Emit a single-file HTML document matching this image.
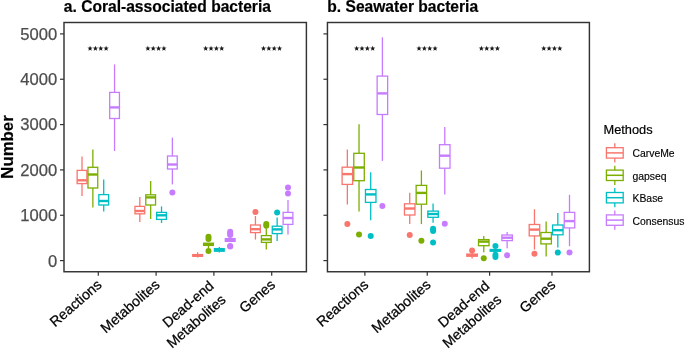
<!DOCTYPE html>
<html><head><meta charset="utf-8"><style>
html,body{margin:0;padding:0;background:#fff;width:685px;height:350px;overflow:hidden}
svg{display:block;will-change:transform}
text{font-family:"Liberation Sans",sans-serif}
.ti{font-size:15.6px;font-weight:bold;fill:#000;stroke:#000;stroke-width:0.2px}
.yl{font-size:16.8px;font-weight:bold;fill:#000;stroke:#000;stroke-width:0.2px}
.yt{font-size:16.6px;fill:#4d4d4d;stroke:#4d4d4d;stroke-width:0.25px}
.xt{font-size:14.2px;fill:#000;stroke:#000;stroke-width:0.25px}
.st{font-size:14px;fill:#000}
.lt{font-size:12.8px;fill:#000;stroke:#000;stroke-width:0.2px}
.lk{font-size:10.4px;fill:#000;stroke:#000;stroke-width:0.15px}
</style></head><body>
<svg width="685" height="350" viewBox="0 0 685 350">
<defs><polygon id="star" points="0.00,-2.80 0.68,-0.93 2.66,-0.87 1.09,0.36 1.65,2.27 0.00,1.15 -1.65,2.27 -1.09,0.36 -2.66,-0.87 -0.68,-0.93" fill="#1a1a1a"/></defs>
<text x="63.8" y="12" class="ti">a. Coral-associated bacteria</text>
<text x="327.3" y="12" class="ti">b. Seawater bacteria</text>
<text x="0" y="0" class="yl" transform="translate(13.2 147) rotate(-90)" text-anchor="middle">Number</text>
<rect x="64.0" y="22.5" width="242.40" height="249.25" fill="none" stroke="#333" stroke-width="1.45"/>
<line x1="60.00" y1="260.60" x2="64.0" y2="260.60" stroke="#333" stroke-width="1.2"/>
<text x="57.20" y="266.50" text-anchor="end" class="yt">0</text>
<line x1="60.00" y1="215.26" x2="64.0" y2="215.26" stroke="#333" stroke-width="1.2"/>
<text x="57.20" y="221.16" text-anchor="end" class="yt">1000</text>
<line x1="60.00" y1="169.92" x2="64.0" y2="169.92" stroke="#333" stroke-width="1.2"/>
<text x="57.20" y="175.82" text-anchor="end" class="yt">2000</text>
<line x1="60.00" y1="124.58" x2="64.0" y2="124.58" stroke="#333" stroke-width="1.2"/>
<text x="57.20" y="130.48" text-anchor="end" class="yt">3000</text>
<line x1="60.00" y1="79.24" x2="64.0" y2="79.24" stroke="#333" stroke-width="1.2"/>
<text x="57.20" y="85.14" text-anchor="end" class="yt">4000</text>
<line x1="60.00" y1="33.90" x2="64.0" y2="33.90" stroke="#333" stroke-width="1.2"/>
<text x="57.20" y="39.80" text-anchor="end" class="yt">5000</text>
<line x1="98.29" y1="271.75" x2="98.29" y2="275.75" stroke="#333" stroke-width="1.2"/>
<use href="#star" x="90.06" y="48.5"/>
<use href="#star" x="95.41" y="48.5"/>
<use href="#star" x="100.76" y="48.5"/>
<use href="#star" x="106.11" y="48.5"/>
<line x1="156.10" y1="271.75" x2="156.10" y2="275.75" stroke="#333" stroke-width="1.2"/>
<use href="#star" x="147.87" y="48.5"/>
<use href="#star" x="153.22" y="48.5"/>
<use href="#star" x="158.57" y="48.5"/>
<use href="#star" x="163.92" y="48.5"/>
<line x1="213.90" y1="271.75" x2="213.90" y2="275.75" stroke="#333" stroke-width="1.2"/>
<use href="#star" x="205.68" y="48.5"/>
<use href="#star" x="211.03" y="48.5"/>
<use href="#star" x="216.38" y="48.5"/>
<use href="#star" x="221.73" y="48.5"/>
<line x1="271.71" y1="271.75" x2="271.71" y2="275.75" stroke="#333" stroke-width="1.2"/>
<use href="#star" x="263.49" y="48.5"/>
<use href="#star" x="268.84" y="48.5"/>
<use href="#star" x="274.19" y="48.5"/>
<use href="#star" x="279.54" y="48.5"/>
<rect x="327.45" y="22.5" width="261.95" height="249.25" fill="none" stroke="#333" stroke-width="1.45"/>
<line x1="323.45" y1="260.60" x2="327.45" y2="260.60" stroke="#333" stroke-width="1.2"/>
<line x1="323.45" y1="215.26" x2="327.45" y2="215.26" stroke="#333" stroke-width="1.2"/>
<line x1="323.45" y1="169.92" x2="327.45" y2="169.92" stroke="#333" stroke-width="1.2"/>
<line x1="323.45" y1="124.58" x2="327.45" y2="124.58" stroke="#333" stroke-width="1.2"/>
<line x1="323.45" y1="79.24" x2="327.45" y2="79.24" stroke="#333" stroke-width="1.2"/>
<line x1="323.45" y1="33.90" x2="327.45" y2="33.90" stroke="#333" stroke-width="1.2"/>
<line x1="364.87" y1="271.75" x2="364.87" y2="275.75" stroke="#333" stroke-width="1.2"/>
<use href="#star" x="356.65" y="48.5"/>
<use href="#star" x="362.00" y="48.5"/>
<use href="#star" x="367.35" y="48.5"/>
<use href="#star" x="372.70" y="48.5"/>
<line x1="427.24" y1="271.75" x2="427.24" y2="275.75" stroke="#333" stroke-width="1.2"/>
<use href="#star" x="419.02" y="48.5"/>
<use href="#star" x="424.37" y="48.5"/>
<use href="#star" x="429.72" y="48.5"/>
<use href="#star" x="435.07" y="48.5"/>
<line x1="489.61" y1="271.75" x2="489.61" y2="275.75" stroke="#333" stroke-width="1.2"/>
<use href="#star" x="481.38" y="48.5"/>
<use href="#star" x="486.73" y="48.5"/>
<use href="#star" x="492.08" y="48.5"/>
<use href="#star" x="497.43" y="48.5"/>
<line x1="551.98" y1="271.75" x2="551.98" y2="275.75" stroke="#333" stroke-width="1.2"/>
<use href="#star" x="543.75" y="48.5"/>
<use href="#star" x="549.10" y="48.5"/>
<use href="#star" x="554.45" y="48.5"/>
<use href="#star" x="559.80" y="48.5"/>
<line x1="82.01" y1="156.6" x2="82.01" y2="170.4" stroke="#F8766D" stroke-width="1.3"/>
<line x1="82.01" y1="183.6" x2="82.01" y2="196" stroke="#F8766D" stroke-width="1.3"/>
<rect x="77.13" y="170.4" width="9.76" height="13.20" fill="#fff" stroke="#F8766D" stroke-width="1.3"/>
<line x1="77.13" y1="180.3" x2="86.89" y2="180.3" stroke="#F8766D" stroke-width="2.4"/>
<line x1="92.86" y1="149.5" x2="92.86" y2="167.3" stroke="#7CAE00" stroke-width="1.3"/>
<line x1="92.86" y1="188" x2="92.86" y2="207.4" stroke="#7CAE00" stroke-width="1.3"/>
<rect x="87.98" y="167.3" width="9.77" height="20.70" fill="#fff" stroke="#7CAE00" stroke-width="1.3"/>
<line x1="87.98" y1="174.5" x2="97.74" y2="174.5" stroke="#7CAE00" stroke-width="2.4"/>
<line x1="103.71" y1="179.4" x2="103.71" y2="194.6" stroke="#00BFC4" stroke-width="1.3"/>
<line x1="103.71" y1="205" x2="103.71" y2="211.4" stroke="#00BFC4" stroke-width="1.3"/>
<rect x="98.83" y="194.6" width="9.77" height="10.40" fill="#fff" stroke="#00BFC4" stroke-width="1.3"/>
<line x1="98.83" y1="201" x2="108.59" y2="201" stroke="#00BFC4" stroke-width="2.4"/>
<line x1="114.56" y1="64.4" x2="114.56" y2="92.4" stroke="#C77CFF" stroke-width="1.3"/>
<line x1="114.56" y1="118.5" x2="114.56" y2="151" stroke="#C77CFF" stroke-width="1.3"/>
<rect x="109.68" y="92.4" width="9.76" height="26.10" fill="#fff" stroke="#C77CFF" stroke-width="1.3"/>
<line x1="109.68" y1="107.4" x2="119.44" y2="107.4" stroke="#C77CFF" stroke-width="2.4"/>
<line x1="139.82" y1="197" x2="139.82" y2="206.4" stroke="#F8766D" stroke-width="1.3"/>
<line x1="139.82" y1="213.8" x2="139.82" y2="222" stroke="#F8766D" stroke-width="1.3"/>
<rect x="134.94" y="206.4" width="9.76" height="7.40" fill="#fff" stroke="#F8766D" stroke-width="1.3"/>
<line x1="134.94" y1="211" x2="144.70" y2="211" stroke="#F8766D" stroke-width="2.4"/>
<line x1="150.67" y1="181" x2="150.67" y2="194.8" stroke="#7CAE00" stroke-width="1.3"/>
<line x1="150.67" y1="205" x2="150.67" y2="219" stroke="#7CAE00" stroke-width="1.3"/>
<rect x="145.79" y="194.8" width="9.76" height="10.20" fill="#fff" stroke="#7CAE00" stroke-width="1.3"/>
<line x1="145.79" y1="197.4" x2="155.55" y2="197.4" stroke="#7CAE00" stroke-width="2.4"/>
<line x1="161.52" y1="206.4" x2="161.52" y2="212.4" stroke="#00BFC4" stroke-width="1.3"/>
<line x1="161.52" y1="219.4" x2="161.52" y2="223" stroke="#00BFC4" stroke-width="1.3"/>
<rect x="156.64" y="212.4" width="9.76" height="7.00" fill="#fff" stroke="#00BFC4" stroke-width="1.3"/>
<line x1="156.64" y1="215.3" x2="166.40" y2="215.3" stroke="#00BFC4" stroke-width="2.4"/>
<line x1="172.37" y1="137.6" x2="172.37" y2="156" stroke="#C77CFF" stroke-width="1.3"/>
<line x1="172.37" y1="169" x2="172.37" y2="184.4" stroke="#C77CFF" stroke-width="1.3"/>
<rect x="167.49" y="156" width="9.76" height="13.00" fill="#fff" stroke="#C77CFF" stroke-width="1.3"/>
<line x1="167.49" y1="164.5" x2="177.25" y2="164.5" stroke="#C77CFF" stroke-width="2.4"/>
<circle cx="172.37" cy="192.4" r="3.0" fill="#C77CFF"/>
<line x1="197.63" y1="252.3" x2="197.63" y2="254.6" stroke="#F8766D" stroke-width="1.3"/>
<line x1="197.63" y1="256.3" x2="197.63" y2="257.5" stroke="#F8766D" stroke-width="1.3"/>
<rect x="192.75" y="254.6" width="9.76" height="1.70" fill="#fff" stroke="#F8766D" stroke-width="1.3"/>
<line x1="192.75" y1="255.4" x2="202.51" y2="255.4" stroke="#F8766D" stroke-width="2.4"/>
<line x1="208.48" y1="243.2" x2="208.48" y2="243.2" stroke="#7CAE00" stroke-width="1.3"/>
<line x1="208.48" y1="245.4" x2="208.48" y2="248" stroke="#7CAE00" stroke-width="1.3"/>
<rect x="203.60" y="243.2" width="9.76" height="2.20" fill="#fff" stroke="#7CAE00" stroke-width="1.3"/>
<line x1="203.60" y1="244.3" x2="213.36" y2="244.3" stroke="#7CAE00" stroke-width="2.4"/>
<circle cx="208.48" cy="236.8" r="3.0" fill="#7CAE00"/>
<circle cx="208.48" cy="239.1" r="3.0" fill="#7CAE00"/>
<circle cx="208.48" cy="251.1" r="3.0" fill="#7CAE00"/>
<line x1="219.33" y1="247" x2="219.33" y2="248.6" stroke="#00BFC4" stroke-width="1.3"/>
<line x1="219.33" y1="251.2" x2="219.33" y2="252.5" stroke="#00BFC4" stroke-width="1.3"/>
<rect x="214.45" y="248.6" width="9.76" height="2.60" fill="#fff" stroke="#00BFC4" stroke-width="1.3"/>
<line x1="214.45" y1="250" x2="224.21" y2="250" stroke="#00BFC4" stroke-width="2.4"/>
<line x1="230.18" y1="238" x2="230.18" y2="238.6" stroke="#C77CFF" stroke-width="1.3"/>
<line x1="230.18" y1="241.4" x2="230.18" y2="242" stroke="#C77CFF" stroke-width="1.3"/>
<rect x="225.30" y="238.6" width="9.76" height="2.80" fill="#fff" stroke="#C77CFF" stroke-width="1.3"/>
<line x1="225.30" y1="240" x2="235.06" y2="240" stroke="#C77CFF" stroke-width="2.4"/>
<circle cx="230.18" cy="231.8" r="3.0" fill="#C77CFF"/>
<circle cx="230.18" cy="233.5" r="3.0" fill="#C77CFF"/>
<circle cx="230.18" cy="235" r="3.0" fill="#C77CFF"/>
<circle cx="230.18" cy="245.9" r="3.0" fill="#C77CFF"/>
<circle cx="230.18" cy="246.5" r="3.0" fill="#C77CFF"/>
<line x1="255.44" y1="216" x2="255.44" y2="225" stroke="#F8766D" stroke-width="1.3"/>
<line x1="255.44" y1="232.6" x2="255.44" y2="239.6" stroke="#F8766D" stroke-width="1.3"/>
<rect x="250.56" y="225" width="9.77" height="7.60" fill="#fff" stroke="#F8766D" stroke-width="1.3"/>
<line x1="250.56" y1="229.2" x2="260.32" y2="229.2" stroke="#F8766D" stroke-width="2.4"/>
<circle cx="255.44" cy="212" r="3.0" fill="#F8766D"/>
<line x1="266.29" y1="228.2" x2="266.29" y2="235.6" stroke="#7CAE00" stroke-width="1.3"/>
<line x1="266.29" y1="242.4" x2="266.29" y2="249.6" stroke="#7CAE00" stroke-width="1.3"/>
<rect x="261.41" y="235.6" width="9.76" height="6.80" fill="#fff" stroke="#7CAE00" stroke-width="1.3"/>
<line x1="261.41" y1="239.4" x2="271.17" y2="239.4" stroke="#7CAE00" stroke-width="2.4"/>
<circle cx="266.29" cy="224" r="3.0" fill="#7CAE00"/>
<circle cx="266.29" cy="225.8" r="3.0" fill="#7CAE00"/>
<line x1="277.14" y1="217.4" x2="277.14" y2="226.2" stroke="#00BFC4" stroke-width="1.3"/>
<line x1="277.14" y1="233.6" x2="277.14" y2="241" stroke="#00BFC4" stroke-width="1.3"/>
<rect x="272.26" y="226.2" width="9.76" height="7.40" fill="#fff" stroke="#00BFC4" stroke-width="1.3"/>
<line x1="272.26" y1="229.4" x2="282.02" y2="229.4" stroke="#00BFC4" stroke-width="2.4"/>
<circle cx="277.14" cy="212.4" r="3.0" fill="#00BFC4"/>
<line x1="287.99" y1="200" x2="287.99" y2="212.4" stroke="#C77CFF" stroke-width="1.3"/>
<line x1="287.99" y1="224.4" x2="287.99" y2="234.4" stroke="#C77CFF" stroke-width="1.3"/>
<rect x="283.11" y="212.4" width="9.76" height="12.00" fill="#fff" stroke="#C77CFF" stroke-width="1.3"/>
<line x1="283.11" y1="218" x2="292.87" y2="218" stroke="#C77CFF" stroke-width="2.4"/>
<circle cx="287.99" cy="187.4" r="3.0" fill="#C77CFF"/>
<circle cx="287.99" cy="193.6" r="3.0" fill="#C77CFF"/>
<line x1="347.35" y1="149.4" x2="347.35" y2="167.2" stroke="#F8766D" stroke-width="1.3"/>
<line x1="347.35" y1="184.4" x2="347.35" y2="204.4" stroke="#F8766D" stroke-width="1.3"/>
<rect x="342.10" y="167.2" width="10.51" height="17.20" fill="#fff" stroke="#F8766D" stroke-width="1.3"/>
<line x1="342.10" y1="174.1" x2="352.61" y2="174.1" stroke="#F8766D" stroke-width="2.4"/>
<circle cx="347.35" cy="224" r="3.0" fill="#F8766D"/>
<line x1="359.03" y1="124.2" x2="359.03" y2="153.3" stroke="#7CAE00" stroke-width="1.3"/>
<line x1="359.03" y1="180.7" x2="359.03" y2="211.6" stroke="#7CAE00" stroke-width="1.3"/>
<rect x="353.78" y="153.3" width="10.51" height="27.40" fill="#fff" stroke="#7CAE00" stroke-width="1.3"/>
<line x1="353.78" y1="167.5" x2="364.29" y2="167.5" stroke="#7CAE00" stroke-width="2.4"/>
<circle cx="359.03" cy="234.5" r="3.0" fill="#7CAE00"/>
<line x1="370.71" y1="172.3" x2="370.71" y2="189.5" stroke="#00BFC4" stroke-width="1.3"/>
<line x1="370.71" y1="202.4" x2="370.71" y2="220.2" stroke="#00BFC4" stroke-width="1.3"/>
<rect x="365.46" y="189.5" width="10.51" height="12.90" fill="#fff" stroke="#00BFC4" stroke-width="1.3"/>
<line x1="365.46" y1="194.4" x2="375.97" y2="194.4" stroke="#00BFC4" stroke-width="2.4"/>
<circle cx="370.71" cy="236" r="3.0" fill="#00BFC4"/>
<line x1="382.39" y1="37.3" x2="382.39" y2="76.1" stroke="#C77CFF" stroke-width="1.3"/>
<line x1="382.39" y1="114.5" x2="382.39" y2="160.9" stroke="#C77CFF" stroke-width="1.3"/>
<rect x="377.14" y="76.1" width="10.51" height="38.40" fill="#fff" stroke="#C77CFF" stroke-width="1.3"/>
<line x1="377.14" y1="93.4" x2="387.65" y2="93.4" stroke="#C77CFF" stroke-width="2.4"/>
<circle cx="382.39" cy="205.9" r="3.0" fill="#C77CFF"/>
<line x1="409.72" y1="192.8" x2="409.72" y2="203.8" stroke="#F8766D" stroke-width="1.3"/>
<line x1="409.72" y1="215" x2="409.72" y2="224.1" stroke="#F8766D" stroke-width="1.3"/>
<rect x="404.46" y="203.8" width="10.51" height="11.20" fill="#fff" stroke="#F8766D" stroke-width="1.3"/>
<line x1="404.46" y1="208.5" x2="414.98" y2="208.5" stroke="#F8766D" stroke-width="2.4"/>
<circle cx="409.72" cy="235" r="3.0" fill="#F8766D"/>
<line x1="421.40" y1="170.5" x2="421.40" y2="185.4" stroke="#7CAE00" stroke-width="1.3"/>
<line x1="421.40" y1="204.2" x2="421.40" y2="224.1" stroke="#7CAE00" stroke-width="1.3"/>
<rect x="416.14" y="185.4" width="10.51" height="18.80" fill="#fff" stroke="#7CAE00" stroke-width="1.3"/>
<line x1="416.14" y1="192.9" x2="426.66" y2="192.9" stroke="#7CAE00" stroke-width="2.4"/>
<circle cx="421.40" cy="240.8" r="3.0" fill="#7CAE00"/>
<line x1="433.08" y1="203.5" x2="433.08" y2="211.1" stroke="#00BFC4" stroke-width="1.3"/>
<line x1="433.08" y1="217.3" x2="433.08" y2="222.8" stroke="#00BFC4" stroke-width="1.3"/>
<rect x="427.82" y="211.1" width="10.51" height="6.20" fill="#fff" stroke="#00BFC4" stroke-width="1.3"/>
<line x1="427.82" y1="214.0" x2="438.34" y2="214.0" stroke="#00BFC4" stroke-width="2.4"/>
<circle cx="433.08" cy="228.7" r="3.0" fill="#00BFC4"/>
<circle cx="433.08" cy="230.9" r="3.0" fill="#00BFC4"/>
<circle cx="433.08" cy="242.6" r="3.0" fill="#00BFC4"/>
<line x1="444.76" y1="127.1" x2="444.76" y2="144.7" stroke="#C77CFF" stroke-width="1.3"/>
<line x1="444.76" y1="168.2" x2="444.76" y2="194.4" stroke="#C77CFF" stroke-width="1.3"/>
<rect x="439.50" y="144.7" width="10.51" height="23.50" fill="#fff" stroke="#C77CFF" stroke-width="1.3"/>
<line x1="439.50" y1="155.7" x2="450.02" y2="155.7" stroke="#C77CFF" stroke-width="2.4"/>
<circle cx="444.76" cy="223.7" r="3.0" fill="#C77CFF"/>
<line x1="472.09" y1="253" x2="472.09" y2="254.1" stroke="#F8766D" stroke-width="1.3"/>
<line x1="472.09" y1="256.2" x2="472.09" y2="258.6" stroke="#F8766D" stroke-width="1.3"/>
<rect x="466.83" y="254.1" width="10.51" height="2.10" fill="#fff" stroke="#F8766D" stroke-width="1.3"/>
<line x1="466.83" y1="255.2" x2="477.35" y2="255.2" stroke="#F8766D" stroke-width="2.4"/>
<circle cx="472.09" cy="250.5" r="3.0" fill="#F8766D"/>
<line x1="483.77" y1="236" x2="483.77" y2="239.6" stroke="#7CAE00" stroke-width="1.3"/>
<line x1="483.77" y1="245.7" x2="483.77" y2="252.3" stroke="#7CAE00" stroke-width="1.3"/>
<rect x="478.51" y="239.6" width="10.51" height="6.10" fill="#fff" stroke="#7CAE00" stroke-width="1.3"/>
<line x1="478.51" y1="241.6" x2="489.03" y2="241.6" stroke="#7CAE00" stroke-width="2.4"/>
<circle cx="483.77" cy="258.2" r="3.0" fill="#7CAE00"/>
<line x1="495.45" y1="248.5" x2="495.45" y2="249.5" stroke="#00BFC4" stroke-width="1.3"/>
<line x1="495.45" y1="251.2" x2="495.45" y2="252" stroke="#00BFC4" stroke-width="1.3"/>
<rect x="490.19" y="249.5" width="10.51" height="1.70" fill="#fff" stroke="#00BFC4" stroke-width="1.3"/>
<line x1="490.19" y1="250.4" x2="500.71" y2="250.4" stroke="#00BFC4" stroke-width="2.4"/>
<circle cx="495.45" cy="246" r="3.0" fill="#00BFC4"/>
<circle cx="495.45" cy="254.8" r="3.0" fill="#00BFC4"/>
<circle cx="495.45" cy="257" r="3.0" fill="#00BFC4"/>
<line x1="507.13" y1="232" x2="507.13" y2="235" stroke="#C77CFF" stroke-width="1.3"/>
<line x1="507.13" y1="240.6" x2="507.13" y2="248.2" stroke="#C77CFF" stroke-width="1.3"/>
<rect x="501.87" y="235" width="10.51" height="5.60" fill="#fff" stroke="#C77CFF" stroke-width="1.3"/>
<line x1="501.87" y1="237.7" x2="512.39" y2="237.7" stroke="#C77CFF" stroke-width="2.4"/>
<circle cx="507.13" cy="255.3" r="3.0" fill="#C77CFF"/>
<line x1="534.46" y1="209.2" x2="534.46" y2="224.5" stroke="#F8766D" stroke-width="1.3"/>
<line x1="534.46" y1="235.9" x2="534.46" y2="249.6" stroke="#F8766D" stroke-width="1.3"/>
<rect x="529.20" y="224.5" width="10.51" height="11.40" fill="#fff" stroke="#F8766D" stroke-width="1.3"/>
<line x1="529.20" y1="229.6" x2="539.71" y2="229.6" stroke="#F8766D" stroke-width="2.4"/>
<circle cx="534.46" cy="253.7" r="3.0" fill="#F8766D"/>
<line x1="546.14" y1="221.6" x2="546.14" y2="232.5" stroke="#7CAE00" stroke-width="1.3"/>
<line x1="546.14" y1="243.9" x2="546.14" y2="256.5" stroke="#7CAE00" stroke-width="1.3"/>
<rect x="540.88" y="232.5" width="10.51" height="11.40" fill="#fff" stroke="#7CAE00" stroke-width="1.3"/>
<line x1="540.88" y1="238.7" x2="551.39" y2="238.7" stroke="#7CAE00" stroke-width="2.4"/>
<line x1="557.82" y1="213.1" x2="557.82" y2="225" stroke="#00BFC4" stroke-width="1.3"/>
<line x1="557.82" y1="234.8" x2="557.82" y2="247.6" stroke="#00BFC4" stroke-width="1.3"/>
<rect x="552.56" y="225" width="10.51" height="9.80" fill="#fff" stroke="#00BFC4" stroke-width="1.3"/>
<line x1="552.56" y1="230.2" x2="563.07" y2="230.2" stroke="#00BFC4" stroke-width="2.4"/>
<circle cx="557.82" cy="252.6" r="3.0" fill="#00BFC4"/>
<line x1="569.50" y1="194.8" x2="569.50" y2="212.4" stroke="#C77CFF" stroke-width="1.3"/>
<line x1="569.50" y1="227.9" x2="569.50" y2="246.2" stroke="#C77CFF" stroke-width="1.3"/>
<rect x="564.24" y="212.4" width="10.51" height="15.50" fill="#fff" stroke="#C77CFF" stroke-width="1.3"/>
<line x1="564.24" y1="221.1" x2="574.75" y2="221.1" stroke="#C77CFF" stroke-width="2.4"/>
<circle cx="569.50" cy="252.4" r="3.0" fill="#C77CFF"/>
<text x="102.69" y="286.05" text-anchor="end" class="xt" transform="rotate(-41.0 102.69 286.05)">Reactions</text>
<text x="160.50" y="286.05" text-anchor="end" class="xt" transform="rotate(-41.0 160.50 286.05)">Metabolites</text>
<text x="214.70" y="287.25" text-anchor="end" class="xt" transform="rotate(-41.0 214.70 287.25)">Dead-end</text>
<text x="226.71" y="301.06" text-anchor="end" class="xt" transform="rotate(-41.0 226.71 301.06)">Metabolites</text>
<text x="276.11" y="286.05" text-anchor="end" class="xt" transform="rotate(-41.0 276.11 286.05)">Genes</text>
<text x="369.27" y="286.05" text-anchor="end" class="xt" transform="rotate(-41.0 369.27 286.05)">Reactions</text>
<text x="431.64" y="286.05" text-anchor="end" class="xt" transform="rotate(-41.0 431.64 286.05)">Metabolites</text>
<text x="490.41" y="287.25" text-anchor="end" class="xt" transform="rotate(-41.0 490.41 287.25)">Dead-end</text>
<text x="502.42" y="301.06" text-anchor="end" class="xt" transform="rotate(-41.0 502.42 301.06)">Metabolites</text>
<text x="556.38" y="286.05" text-anchor="end" class="xt" transform="rotate(-41.0 556.38 286.05)">Genes</text>
<text x="603.5" y="134" class="lt">Methods</text>
<line x1="614.8" y1="143.30" x2="614.8" y2="162.50" stroke="#F8766D" stroke-width="1.3"/>
<rect x="606.4" y="147.70" width="16.8" height="10.4" fill="#fff" stroke="#F8766D" stroke-width="1.3"/>
<line x1="606.4" y1="152.90" x2="623.2" y2="152.90" stroke="#F8766D" stroke-width="1.5"/>
<text x="632.5" y="157.40" class="lk">CarveMe</text>
<line x1="614.8" y1="165.70" x2="614.8" y2="184.90" stroke="#7CAE00" stroke-width="1.3"/>
<rect x="606.4" y="170.10" width="16.8" height="10.4" fill="#fff" stroke="#7CAE00" stroke-width="1.3"/>
<line x1="606.4" y1="175.30" x2="623.2" y2="175.30" stroke="#7CAE00" stroke-width="1.5"/>
<text x="632.5" y="179.80" class="lk">gapseq</text>
<line x1="614.8" y1="188.10" x2="614.8" y2="207.30" stroke="#00BFC4" stroke-width="1.3"/>
<rect x="606.4" y="192.50" width="16.8" height="10.4" fill="#fff" stroke="#00BFC4" stroke-width="1.3"/>
<line x1="606.4" y1="197.70" x2="623.2" y2="197.70" stroke="#00BFC4" stroke-width="1.5"/>
<text x="632.5" y="202.20" class="lk">KBase</text>
<line x1="614.8" y1="210.50" x2="614.8" y2="229.70" stroke="#C77CFF" stroke-width="1.3"/>
<rect x="606.4" y="214.90" width="16.8" height="10.4" fill="#fff" stroke="#C77CFF" stroke-width="1.3"/>
<line x1="606.4" y1="220.10" x2="623.2" y2="220.10" stroke="#C77CFF" stroke-width="1.5"/>
<text x="632.5" y="224.60" class="lk">Consensus</text>
</svg>
</body></html>
